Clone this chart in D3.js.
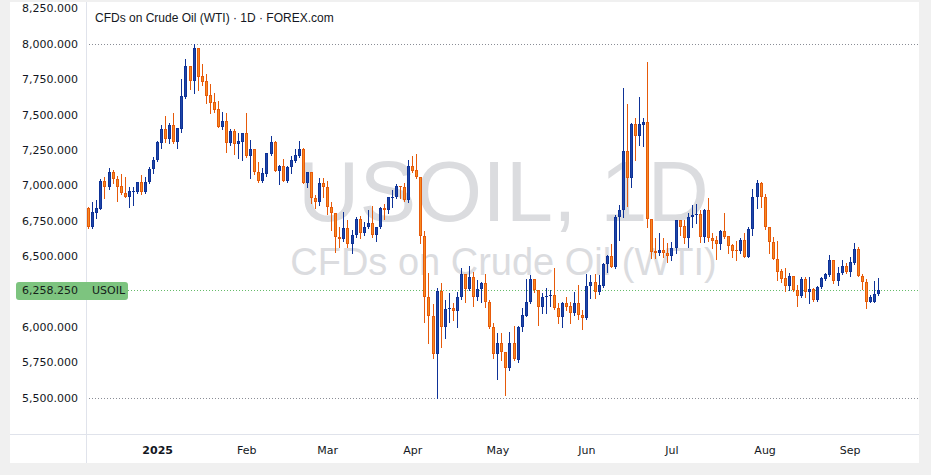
<!DOCTYPE html>
<html>
<head>
<meta charset="utf-8">
<script src="https://cdn.jsdelivr.net/npm/d3@7"></script>
<style>
  body { margin: 0; background: #f0f0f0; }
  svg { display: block; }
</style>
</head>
<body>
<svg width="931" height="475"></svg>
<script>
// daily OHLC, USOIL, from early Dec 2024 to Sep 2025
var opens = [
  6838, 6708, 6806, 6835, 7030, 6986, 7094, 7042, 6995, 6944,
  6920, 6953, 6953, 7021, 6953, 7021, 7113, 7179, 7301, 7398,
  7329, 7426, 7308, 7400, 7626, 7843, 7739, 7970, 7772, 7737,
  7638, 7588, 7539, 7414, 7456, 7301, 7384, 7290, 7308, 7367,
  7209, 7256, 7096, 7033, 7080, 7221, 7306, 7103, 7136, 7033,
  7127, 7174, 7209, 7256, 7018, 7092, 6908, 6880, 7014, 6990,
  6845, 6802, 6633, 6619, 6696, 6583, 6647, 6760, 6661, 6703,
  6732, 6649, 6703, 6838, 6826, 6913, 6915, 6995, 6988, 6896,
  7136, 7108, 7056, 6644, 6213, 6079, 5807, 6256, 6001, 6124,
  6131, 6114, 6209, 6371, 6266, 6350, 6213, 6266, 6308, 6178,
  5996, 5807, 5884, 5821, 5708, 5884, 5766, 6001, 6079, 6174,
  6338, 6261, 6138, 6213, 6216, 6225, 6131, 6072, 6167, 6148,
  6096, 6171, 6084, 6061, 6287, 6315, 6249, 6291, 6444, 6501,
  6425, 6778, 6826, 7242, 7054, 7433, 7350, 7428, 7447, 6760,
  6536, 6520, 6543, 6520, 6501, 6555, 6755, 6712, 6630, 6774,
  6794, 6797, 6637, 6826, 6626, 6614, 6585, 6677, 6642, 6578,
  6543, 6536, 6614, 6496, 6691, 6915, 7018, 6915, 6703, 6602,
  6480, 6395, 6343, 6291, 6359, 6261, 6220, 6338, 6249, 6268,
  6190, 6280, 6338, 6366, 6472, 6324, 6379, 6430, 6390, 6454,
  6550, 6362, 6319, 6178, 6178, 6232
];
var highs = [
  6849, 6884, 6896, 7042, 7061, 7122, 7108, 7066, 7080, 7059,
  6990, 6990, 7025, 7073, 7061, 7131, 7202, 7310, 7426, 7489,
  7438, 7513, 7405, 7749, 7894, 7845, 7998, 7972, 7857, 7786,
  7715, 7654, 7597, 7516, 7513, 7398, 7398, 7367, 7370, 7508,
  7320, 7258, 7165, 7120, 7228, 7348, 7310, 7143, 7184, 7136,
  7207, 7258, 7313, 7260, 7094, 7094, 6932, 7049, 7049, 7033,
  6884, 6805, 6708, 6814, 6755, 6684, 6778, 6783, 6743, 6826,
  6854, 6708, 6845, 6868, 6920, 6967, 7009, 6997, 7014, 7179,
  7207, 7221, 7058, 6679, 6379, 6162, 6273, 6308, 6190, 6237,
  6167, 6249, 6418, 6373, 6430, 6390, 6331, 6320, 6374, 6190,
  6030, 5955, 5959, 5823, 5964, 6006, 6003, 6131, 6338, 6366,
  6340, 6263, 6241, 6273, 6261, 6414, 6167, 6178, 6209, 6178,
  6249, 6296, 6119, 6374, 6366, 6374, 6366, 6449, 6508, 6585,
  6790, 6861, 7685, 7574, 7442, 7473, 7621, 7473, 7869, 6762,
  6626, 6661, 6626, 6590, 6602, 6758, 6758, 6755, 6806, 6861,
  6868, 6826, 6830, 6910, 6661, 6642, 6684, 6806, 6645, 6585,
  6607, 6630, 6665, 6708, 6972, 7037, 7025, 6938, 6705, 6637,
  6607, 6407, 6414, 6379, 6361, 6296, 6350, 6355, 6355, 6273,
  6289, 6350, 6383, 6508, 6474, 6425, 6472, 6449, 6496, 6595,
  6566, 6374, 6336, 6225, 6324, 6343
];
var lows = [
  6696, 6700, 6767, 6830, 6908, 6976, 7018, 6891, 6938, 6915,
  6849, 6863, 6944, 6936, 6944, 7014, 7085, 7174, 7266, 7308,
  7301, 7297, 7261, 7379, 7619, 7680, 7650, 7673, 7708, 7583,
  7508, 7520, 7410, 7398, 7235, 7285, 7221, 7191, 7179, 7202,
  7054, 7080, 7025, 7025, 7068, 7214, 7098, 7009, 7028, 7025,
  7089, 7167, 7202, 7014, 6986, 6873, 6842, 6861, 6920, 6797,
  6684, 6527, 6562, 6609, 6566, 6524, 6637, 6626, 6649, 6696,
  6637, 6609, 6696, 6760, 6802, 6849, 6908, 6908, 6891, 6882,
  7096, 7052, 6595, 6037, 5888, 5782, 5500, 5860, 5924, 6037,
  6049, 6001, 6197, 6178, 6260, 6148, 6190, 6178, 6143, 5994,
  5782, 5630, 5766, 5519, 5696, 5766, 5754, 5973, 6077, 6167,
  6249, 6013, 6096, 6096, 6148, 6124, 6025, 6001, 6119, 6025,
  6084, 6054, 5983, 6059, 6202, 6202, 6230, 6284, 6390, 6421,
  6414, 6614, 6778, 6856, 6990, 7179, 7285, 7280, 6708, 6484,
  6484, 6508, 6492, 6460, 6472, 6524, 6649, 6595, 6562, 6708,
  6732, 6602, 6602, 6609, 6555, 6477, 6548, 6626, 6520, 6491,
  6472, 6524, 6494, 6492, 6649, 6838, 6849, 6689, 6524, 6477,
  6331, 6319, 6256, 6261, 6256, 6148, 6213, 6213, 6168, 6185,
  6185, 6273, 6331, 6359, 6312, 6296, 6372, 6383, 6359, 6444,
  6359, 6268, 6136, 6176, 6176, 6225
];
var closes = [
  6708, 6809, 6838, 7030, 6986, 7094, 7042, 6990, 6944, 6920,
  6958, 6958, 7021, 6955, 7021, 7113, 7179, 7306, 7398, 7329,
  7426, 7308, 7403, 7631, 7843, 7739, 7970, 7767, 7732, 7633,
  7583, 7532, 7414, 7456, 7301, 7384, 7290, 7313, 7367, 7209,
  7256, 7096, 7033, 7085, 7226, 7306, 7103, 7136, 7033, 7131,
  7179, 7214, 7256, 7018, 7092, 6908, 6880, 7014, 6990, 6845,
  6802, 6633, 6619, 6696, 6583, 6647, 6764, 6661, 6708, 6732,
  6649, 6703, 6838, 6826, 6915, 6920, 6995, 6990, 6896, 7136,
  7103, 7056, 6644, 6213, 6079, 5807, 6256, 6001, 6124, 6131,
  6114, 6209, 6371, 6266, 6350, 6213, 6266, 6308, 6178, 5996,
  5807, 5884, 5821, 5708, 5884, 5771, 6001, 6084, 6174, 6338,
  6261, 6138, 6213, 6218, 6225, 6131, 6072, 6167, 6143, 6096,
  6171, 6084, 6061, 6289, 6315, 6249, 6294, 6444, 6501, 6425,
  6778, 6826, 7242, 7054, 7433, 7350, 7433, 7447, 6760, 6531,
  6520, 6543, 6520, 6501, 6555, 6755, 6708, 6630, 6774, 6790,
  6797, 6637, 6826, 6626, 6609, 6585, 6677, 6637, 6571, 6538,
  6536, 6614, 6496, 6691, 6920, 7018, 6915, 6703, 6597, 6480,
  6390, 6338, 6291, 6359, 6261, 6220, 6338, 6249, 6268, 6190,
  6284, 6343, 6371, 6472, 6324, 6379, 6430, 6390, 6456, 6550,
  6362, 6319, 6178, 6213, 6232, 6258.25
];

// bar index where each month label sits
var monthLabels = ["2025", "Feb", "Mar", "Apr", "May", "Jun", "Jul", "Aug", "Sep"];
var monthStarts = [17, 39, 59, 80, 101, 123, 144, 167, 188];

// 6,250 is covered by the last price label
var priceTicks = [8250, 8000, 7750, 7500, 7250, 7000, 6750, 6500, 6000, 5750, 5500];
var rangeMarks = [8000, 5500];   // visible high / low
var lastPrice  = 6258.25;

var svg = d3.select("svg");

var upFill   = "#1f46a8", upLine   = "#0e3297",
    downFill = "#f78a22", downLine = "#e65a0a";

const paneLeft = 86, paneRight = 919, paneTop = 2, axisY = 434, frameBottom = 463;

var x = d3.scaleLinear().domain([0, closes.length - 1]).range([88.3, 878]);
var y = d3.scaleLinear().domain([5500, 8000]).range([397.7, 43.7]);

// frame
svg.append('rect')
    .attr('width', 931).attr('height', 475)
    .style('fill', '#f0f0f0');
svg.append('rect')
    .attr('x', 10).attr('y', paneTop)
    .attr('width', paneRight - 10).attr('height', frameBottom - paneTop)
    .style('fill', '#ffffff');

// watermark
var mid = (paneLeft + paneRight) / 2 + 1;
svg.append('text')
    .attr('x', mid).attr('y', 221)
    .attr('text-anchor', 'middle')
    .attr('font-family', 'Liberation Sans, Arial, sans-serif')
    .attr('font-size', 85)
    .attr('fill', '#dbdcdf')
    .text('USOIL, 1D');
svg.append('text')
    .attr('x', mid).attr('y', 275)
    .attr('text-anchor', 'middle')
    .attr('font-family', 'Liberation Sans, Arial, sans-serif')
    .attr('font-size', 38)
    .attr('fill', '#dbdcdf')
    .text('CFDs on Crude Oil (WTI)');

// dotted high / low lines
svg.append('g').selectAll('line')
    .data(rangeMarks)
    .join('line')
        .attr('x1', paneLeft).attr('x2', paneRight)
        .attr('y1', d => Math.round(y(d)) + 0.5)
        .attr('y2', d => Math.round(y(d)) + 0.5)
        .style('stroke', '#8a8d96')
        .style('stroke-width', 1)
        .style('stroke-dasharray', '1,2');

// last price line
var lastY = Math.round(y(lastPrice)) + 0.5;
svg.append('line')
    .attr('x1', 128).attr('x2', paneRight)
    .attr('y1', lastY).attr('y2', lastY)
    .style('stroke', '#66bb6a')
    .style('stroke-width', 1)
    .style('stroke-dasharray', '1,2');

// candles
var bars = svg.append('g').selectAll('g')
    .data(d3.range(closes.length))
    .join('g');

bars.each(function (i) {
  var g   = d3.select(this);
  var up  = closes[i] >= opens[i];
  var px  = Math.round(x(i));
  var top = Math.round(y(Math.max(opens[i], closes[i])));
  var bot = Math.round(y(Math.min(opens[i], closes[i])));
  var h   = Math.max(1, bot - top);

  g.append('line')
      .attr('x1', px + 0.5).attr('x2', px + 0.5)
      .attr('y1', Math.round(y(highs[i])))
      .attr('y2', Math.round(y(lows[i])) + 1)
      .style('stroke', up ? upLine : downLine)
      .style('stroke-width', 1);
  g.append('rect')
      .attr('x', px - 1).attr('y', top)
      .attr('width', 3).attr('height', h)
      .style('fill', up ? upLine : downLine);
  if (h > 2) {
    g.append('rect')
        .attr('x', px).attr('y', top + 1)
        .attr('width', 1).attr('height', h - 2)
        .style('fill', up ? upFill : downFill);
  }
});

// separators
svg.append('line')
    .attr('x1', paneLeft + 0.5).attr('x2', paneLeft + 0.5)
    .attr('y1', paneTop).attr('y2', frameBottom)
    .style('stroke', '#e0e3eb');
svg.append('line')
    .attr('x1', 10).attr('x2', paneRight)
    .attr('y1', axisY + 0.5).attr('y2', axisY + 0.5)
    .style('stroke', '#e0e3eb');

// price axis
var yAxis = svg.append('g')
    .attr('transform', 'translate(' + paneLeft + ',0)')
    .call(d3.axisLeft(y).tickValues(priceTicks).tickFormat(d3.format(',.3f')).tickSize(0).tickPadding(8));
yAxis.select('.domain').remove();
yAxis.selectAll('text')
    .attr('font-family', 'DejaVu Sans, sans-serif')
    .attr('font-size', 11)
    .attr('fill', '#131722');

// time axis
var xAxis = svg.append('g')
    .attr('transform', 'translate(0,' + axisY + ')')
    .call(d3.axisBottom(x).tickValues(monthStarts)
        .tickFormat((d, k) => monthLabels[k]).tickSize(0).tickPadding(12));
xAxis.select('.domain').remove();
xAxis.selectAll('text')
    .attr('font-family', 'DejaVu Sans, sans-serif')
    .attr('font-size', 11)
    .attr('fill', '#131722')
    .attr('font-weight', (d, k) => k === 0 ? 'bold' : 'normal');

// last price label
svg.append('rect')
    .attr('x', 16).attr('y', 282)
    .attr('width', 112).attr('height', 18)
    .attr('rx', 3).attr('ry', 3)
    .style('fill', '#7dc47f');
svg.append('text')
    .attr('x', 78).attr('y', lastY)
    .attr('dy', '0.35em')
    .attr('text-anchor', 'end')
    .attr('font-family', 'DejaVu Sans, sans-serif')
    .attr('font-size', 11)
    .attr('fill', '#15221a')
    .text(d3.format(',.3f')(lastPrice));
svg.append('text')
    .attr('x', 92).attr('y', lastY)
    .attr('dy', '0.35em')
    .attr('font-family', 'DejaVu Sans, sans-serif')
    .attr('font-size', 11)
    .attr('fill', '#15221a')
    .text('USOIL');

// title
svg.append('text')
    .attr('x', 95).attr('y', 22)
    .attr('font-family', 'Liberation Sans, Arial, sans-serif')
    .attr('font-size', 12)
    .attr('fill', '#131722')
    .text('CFDs on Crude Oil (WTI) \u00b7 1D \u00b7 FOREX.com');
</script>
</body>
</html>
